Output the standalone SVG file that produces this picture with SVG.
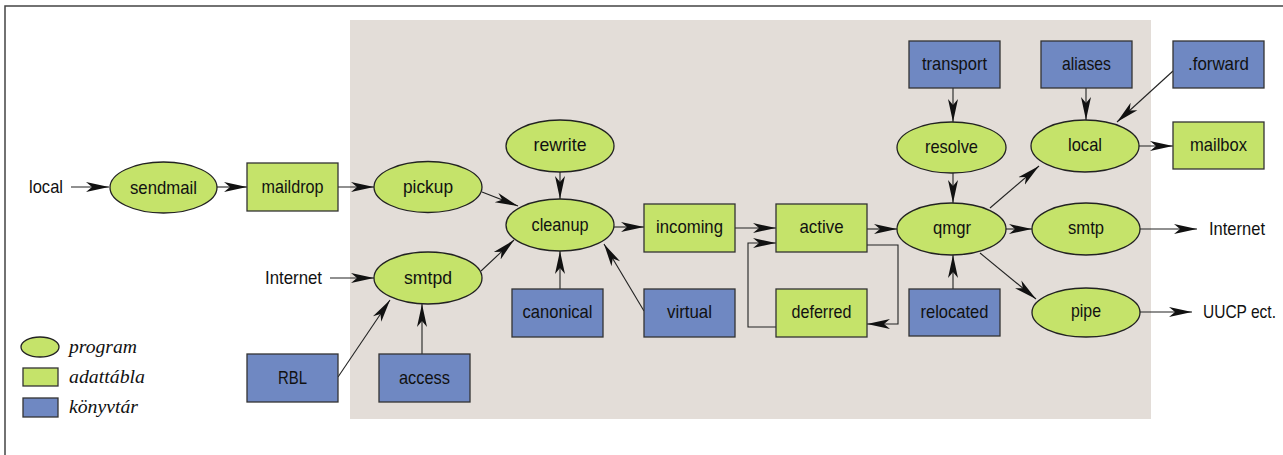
<svg xmlns="http://www.w3.org/2000/svg" width="1283" height="455" viewBox="0 0 1283 455">
  <defs>
    <marker id="arr" markerUnits="userSpaceOnUse" markerWidth="24" markerHeight="13" viewBox="0 0 24 13" refX="23" refY="6.5" orient="auto">
      <path d="M0,1.5 L23,6.5 L0,11.5 L6,6.5 Z" fill="#111"/>
    </marker>
    <style>
      .prog { fill: #c5e36a; stroke: #222; stroke-width: 1.3; }
      .tab { fill: #c5e36a; stroke: #333; stroke-width: 1.3; }
      .lib { fill: #6f88c2; stroke: #333; stroke-width: 1.3; }
      .lbl { font-family: "Liberation Sans", Arial, sans-serif; font-size: 19px; fill: #111; text-anchor: middle; }
      .ext { font-family: "Liberation Sans", Arial, sans-serif; font-size: 19px; fill: #111; }
      .leg { font-family: "Liberation Serif", "Times New Roman", serif; font-style: italic; font-size: 19px; fill: #111; }
      .edge { fill: none; stroke: #222; stroke-width: 1.1; marker-end: url(#arr); }
    </style>
  </defs>

  <!-- page background and frame -->
  <rect x="0" y="0" width="1283" height="455" fill="#fff"/>
  <path d="M5,455 V6 H1283" fill="none" stroke="#444" stroke-width="1.5"/>

  <!-- shaded system area -->
  <rect x="350" y="20" width="801" height="399" fill="#e3ddd8"/>

  <!-- external labels -->
  <text class="ext" x="29" y="193" textLength="34" lengthAdjust="spacingAndGlyphs">local</text>
  <text class="ext" x="265" y="284" textLength="57" lengthAdjust="spacingAndGlyphs">Internet</text>
  <text class="ext" x="1209" y="235" textLength="56" lengthAdjust="spacingAndGlyphs">Internet</text>
  <text class="ext" x="1203" y="318" textLength="73" lengthAdjust="spacingAndGlyphs">UUCP ect.</text>

  <!-- connectors -->
  <g id="connectors">
    <line class="edge" x1="71" y1="187" x2="109" y2="187"/>
    <line class="edge" x1="217" y1="187" x2="247" y2="187"/>
    <line class="edge" x1="338" y1="187" x2="374" y2="187"/>
    <line class="edge" x1="330" y1="278" x2="374" y2="278"/>
    <line class="edge" x1="338" y1="377" x2="390" y2="300"/>
    <line class="edge" x1="422" y1="354" x2="422" y2="304"/>
    <line class="edge" x1="482" y1="192" x2="518" y2="206"/>
    <line class="edge" x1="481" y1="271" x2="514" y2="240"/>
    <line class="edge" x1="560" y1="172" x2="560" y2="199"/>
    <line class="edge" x1="560" y1="289" x2="560" y2="251"/>
    <line class="edge" x1="644" y1="311" x2="604" y2="244"/>
    <line class="edge" x1="614" y1="227" x2="644" y2="227"/>
    <line class="edge" x1="735" y1="228" x2="776" y2="228"/>
    <polyline class="edge" points="776,327 748,327 748,243 776,243"/>
    <polyline class="edge" points="867,245 898,245 898,324 867,324"/>
    <line class="edge" x1="867" y1="229" x2="897" y2="229"/>
    <line class="edge" x1="953" y1="88" x2="953" y2="122"/>
    <line class="edge" x1="953" y1="173" x2="953" y2="203"/>
    <line class="edge" x1="953" y1="289" x2="953" y2="255"/>
    <line class="edge" x1="990" y1="208" x2="1039" y2="166"/>
    <line class="edge" x1="1006" y1="229" x2="1032" y2="229"/>
    <line class="edge" x1="980" y1="253" x2="1036" y2="299"/>
    <line class="edge" x1="1086" y1="88" x2="1086" y2="120"/>
    <line class="edge" x1="1173" y1="71" x2="1117" y2="122"/>
    <line class="edge" x1="1139" y1="146" x2="1173" y2="146"/>
    <line class="edge" x1="1140" y1="229" x2="1197" y2="229"/>
    <line class="edge" x1="1140" y1="312" x2="1192" y2="312"/>
  </g>

  <!-- programs -->
  <g id="sendmail"><ellipse class="prog" cx="163.5" cy="187.5" rx="53.5" ry="25.5"/><text class="lbl" x="163.5" y="194" textLength="67" lengthAdjust="spacingAndGlyphs">sendmail</text></g>
  <g id="pickup"><ellipse class="prog" cx="428" cy="187" rx="54" ry="25.5"/><text class="lbl" x="428" y="193" textLength="50" lengthAdjust="spacingAndGlyphs">pickup</text></g>
  <g id="smtpd"><ellipse class="prog" cx="428" cy="278" rx="54" ry="26"/><text class="lbl" x="428" y="284" textLength="48" lengthAdjust="spacingAndGlyphs">smtpd</text></g>
  <g id="rewrite"><ellipse class="prog" cx="560" cy="146" rx="54" ry="26"/><text class="lbl" x="560" y="151" textLength="53" lengthAdjust="spacingAndGlyphs">rewrite</text></g>
  <g id="cleanup"><ellipse class="prog" cx="560" cy="225" rx="54" ry="26"/><text class="lbl" x="560" y="231" textLength="57" lengthAdjust="spacingAndGlyphs">cleanup</text></g>
  <g id="resolve"><ellipse class="prog" cx="951.5" cy="147.5" rx="54.5" ry="25.5"/><text class="lbl" x="951.5" y="153" textLength="53" lengthAdjust="spacingAndGlyphs">resolve</text></g>
  <g id="qmgr"><ellipse class="prog" cx="951.5" cy="229" rx="54.5" ry="26"/><text class="lbl" x="952" y="234" textLength="38" lengthAdjust="spacingAndGlyphs">qmgr</text></g>
  <g id="local"><ellipse class="prog" cx="1085" cy="146" rx="54" ry="26"/><text class="lbl" x="1085" y="151" textLength="34" lengthAdjust="spacingAndGlyphs">local</text></g>
  <g id="smtp"><ellipse class="prog" cx="1086" cy="229" rx="54" ry="26"/><text class="lbl" x="1086" y="234" textLength="36" lengthAdjust="spacingAndGlyphs">smtp</text></g>
  <g id="pipe"><ellipse class="prog" cx="1086" cy="312.5" rx="54" ry="24.5"/><text class="lbl" x="1086" y="317" textLength="30" lengthAdjust="spacingAndGlyphs">pipe</text></g>

  <!-- data tables -->
  <g id="maildrop"><rect class="tab" x="247" y="163" width="91" height="48"/><text class="lbl" x="292.5" y="193" textLength="62" lengthAdjust="spacingAndGlyphs">maildrop</text></g>
  <g id="incoming"><rect class="tab" x="644" y="204" width="91" height="48"/><text class="lbl" x="689.5" y="233" textLength="67" lengthAdjust="spacingAndGlyphs">incoming</text></g>
  <g id="active"><rect class="tab" x="776" y="204" width="91" height="48"/><text class="lbl" x="821.5" y="233" textLength="44" lengthAdjust="spacingAndGlyphs">active</text></g>
  <g id="deferred"><rect class="tab" x="776" y="289" width="91" height="48"/><text class="lbl" x="821.5" y="318" textLength="60" lengthAdjust="spacingAndGlyphs">deferred</text></g>
  <g id="mailbox"><rect class="tab" x="1173" y="122" width="91" height="47"/><text class="lbl" x="1218.5" y="151" textLength="57" lengthAdjust="spacingAndGlyphs">mailbox</text></g>

  <!-- lookup tables -->
  <g id="RBL"><rect class="lib" x="247" y="354" width="91" height="48"/><text class="lbl" x="292.5" y="384" textLength="29" lengthAdjust="spacingAndGlyphs">RBL</text></g>
  <g id="access"><rect class="lib" x="379" y="354" width="91" height="48"/><text class="lbl" x="424.5" y="384" textLength="51" lengthAdjust="spacingAndGlyphs">access</text></g>
  <g id="canonical"><rect class="lib" x="512" y="289" width="91" height="48"/><text class="lbl" x="557.5" y="318" textLength="70" lengthAdjust="spacingAndGlyphs">canonical</text></g>
  <g id="virtual"><rect class="lib" x="644" y="289" width="91" height="48"/><text class="lbl" x="689.5" y="318" textLength="45" lengthAdjust="spacingAndGlyphs">virtual</text></g>
  <g id="transport"><rect class="lib" x="909" y="41" width="91" height="47"/><text class="lbl" x="954.5" y="70" textLength="65" lengthAdjust="spacingAndGlyphs">transport</text></g>
  <g id="aliases"><rect class="lib" x="1041" y="41" width="91" height="47"/><text class="lbl" x="1086.5" y="70" textLength="49" lengthAdjust="spacingAndGlyphs">aliases</text></g>
  <g id="forward"><rect class="lib" x="1173" y="41" width="91" height="47"/><text class="lbl" x="1218.5" y="70" textLength="61" lengthAdjust="spacingAndGlyphs">.forward</text></g>
  <g id="relocated"><rect class="lib" x="909" y="289" width="91" height="47"/><text class="lbl" x="954.5" y="318" textLength="68" lengthAdjust="spacingAndGlyphs">relocated</text></g>

  <!-- legend -->
  <g id="legend">
    <ellipse class="prog" cx="40" cy="347" rx="19" ry="10"/>
    <text class="leg" x="69" y="353" textLength="68" lengthAdjust="spacingAndGlyphs">program</text>
    <rect class="tab" x="23" y="368" width="35" height="18"/>
    <text class="leg" x="69" y="383" textLength="76" lengthAdjust="spacingAndGlyphs">adattábla</text>
    <rect class="lib" x="23" y="398" width="35" height="19"/>
    <text class="leg" x="69" y="413" textLength="69" lengthAdjust="spacingAndGlyphs">könyvtár</text>
  </g>
</svg>
